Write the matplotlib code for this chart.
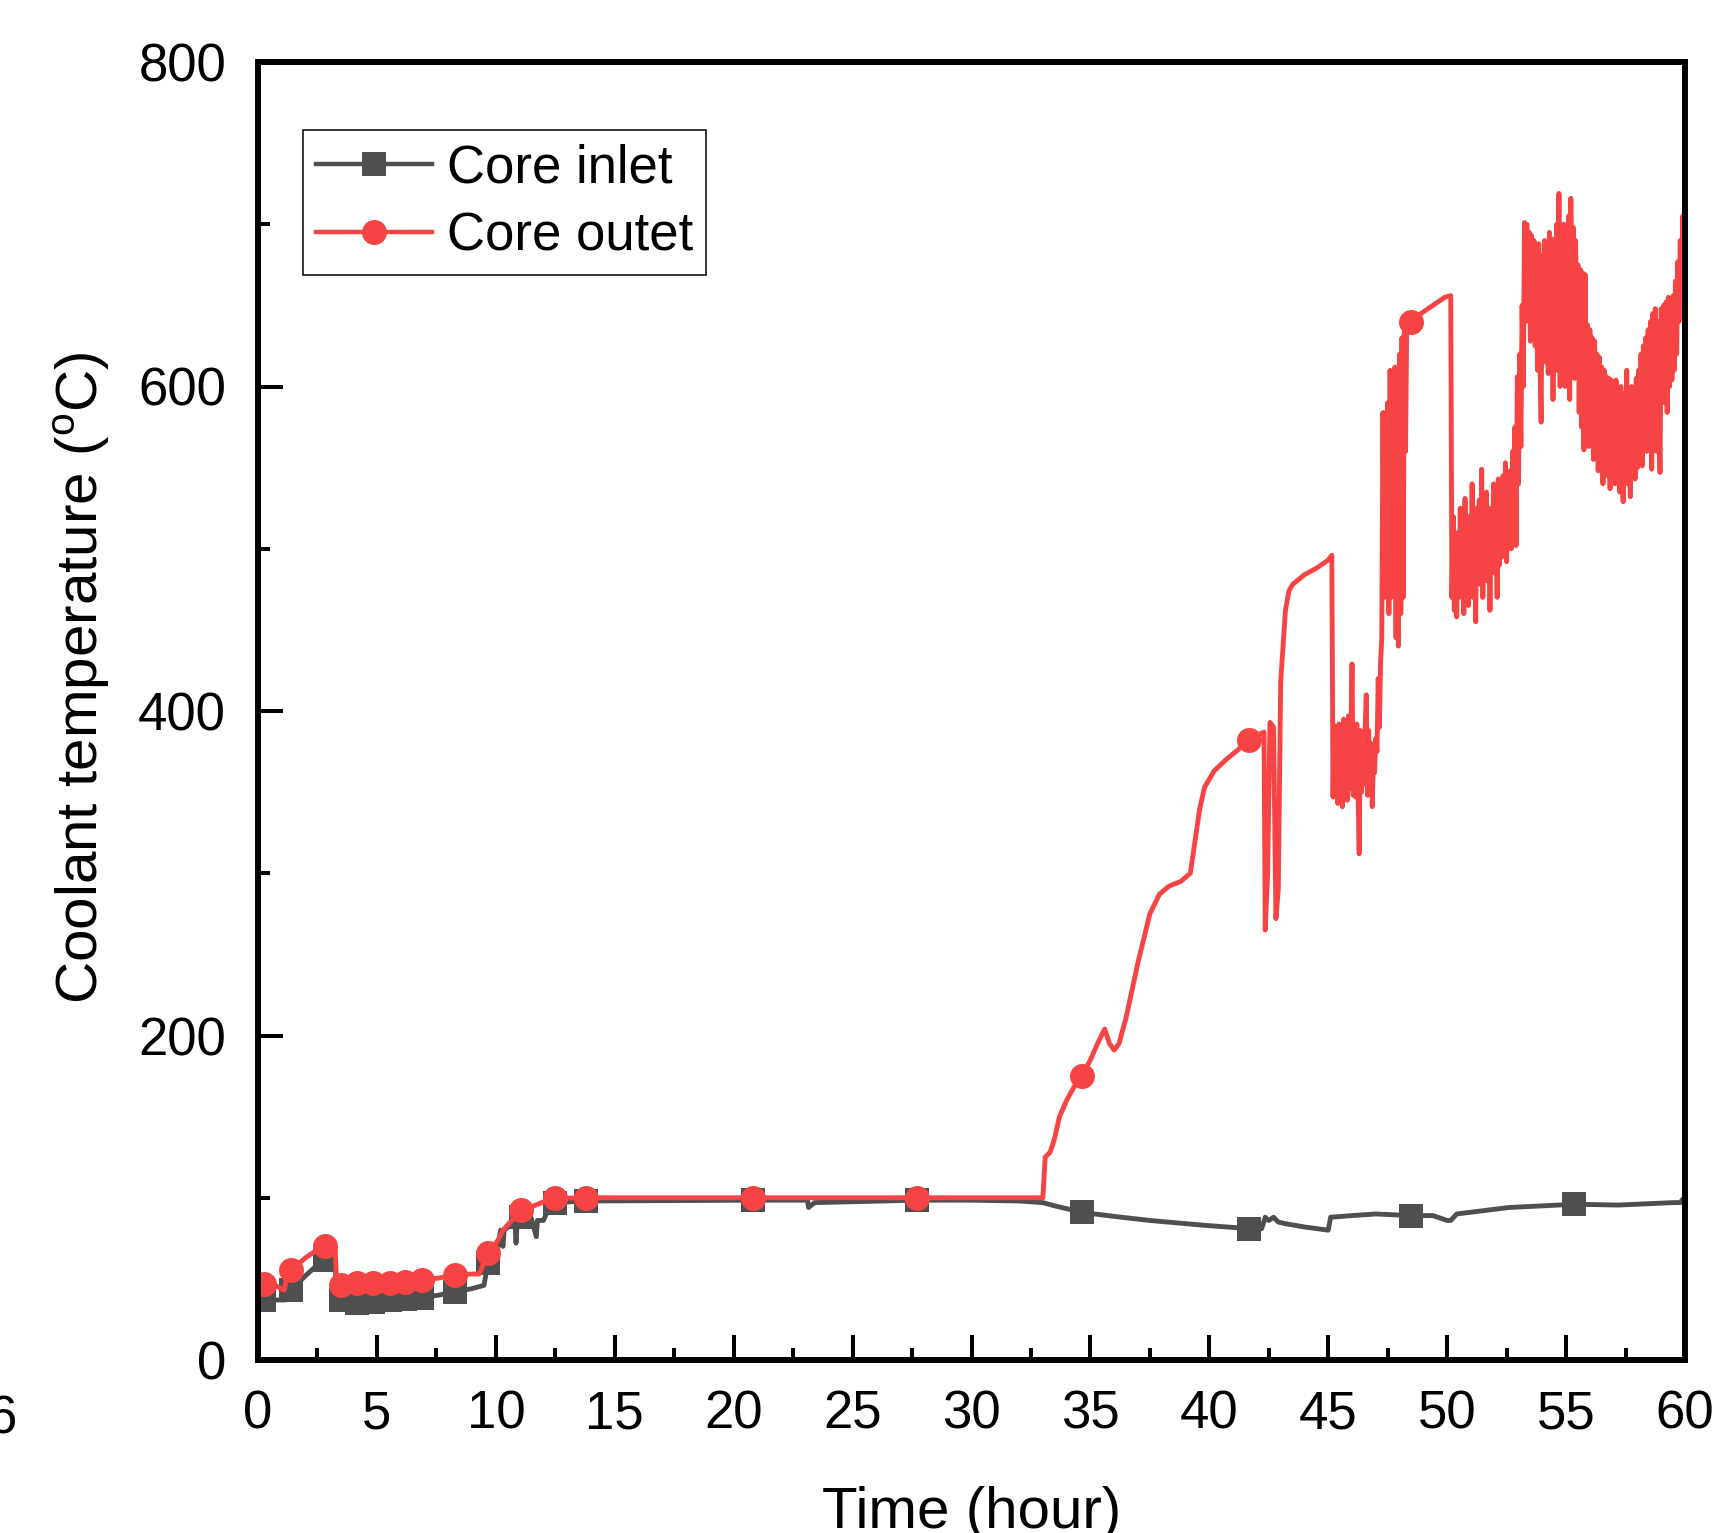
import numpy as np
import matplotlib
matplotlib.use('Agg')
import matplotlib.pyplot as plt
from matplotlib.lines import Line2D
from matplotlib.ticker import MultipleLocator

plt.rcParams['font.family'] = ['Liberation Sans', 'DejaVu Sans']
plt.rcParams['mathtext.fontset'] = 'custom'
plt.rcParams['mathtext.rm'] = 'Liberation Sans'

# ---- core inlet (hour, degC) ----
inlet_t = [0, 0.25, 1.15, 1.2, 1.39, 2.0, 2.6, 2.8, 3.25, 3.3,
           3.5, 4.17, 4.83, 5.54, 6.2, 6.9, 7.6, 8.3, 9.0, 9.5,
           9.67, 10.0, 10.2, 10.3, 10.35, 10.6, 10.8, 10.85, 10.9, 11.06,
           11.5, 11.7, 11.75, 12.0, 12.3, 12.5, 13.8, 20.8, 23.1, 23.15,
           23.4, 27.7, 30.0, 32.0, 33.0, 33.5, 34.65, 36.0, 37.5, 39.8,
           41.65, 42.2, 42.35, 42.5, 42.7, 42.9, 43.2, 44.0, 45.0, 45.1,
           46.0, 47.0, 48.5, 49.4, 50.0, 50.15, 50.4, 51.5, 52.6, 54.0,
           55.35, 57.2, 59.5, 59.8, 59.9, 60.0]
inlet_T = [37, 37, 37, 40, 43, 52, 60, 61.6, 61, 37,
           37, 35, 36, 37, 37.5, 38.5, 40, 42, 44, 46,
           59.6, 62, 80, 70, 80, 83, 86, 72, 86, 88,
           87, 76, 86, 86, 96, 97, 98, 98.5, 98.5, 94,
           97, 98.5, 98.5, 98, 97, 95, 91, 88.5, 86, 83,
           81, 81, 88, 86, 88, 85, 84, 82, 80, 88,
           89, 90, 89, 89, 86, 86, 90, 92, 94, 95,
           96, 95.5, 97, 97, 99, 97]
inlet_marks = [0.25, 1.39, 2.8, 3.5, 4.17, 4.83, 5.54, 6.2, 6.9, 8.3, 9.67,
               11.06, 12.5, 13.8, 20.8, 27.7, 34.65, 41.65, 48.5, 55.35]

# ---- core outlet ----
# heat-up, plateau at 100 and ramp
out_t_a = [0, 0.25, 0.6, 1.1, 1.2, 1.39, 2.0, 2.6, 2.8, 3.1,
           3.25, 3.3, 3.5, 4.17, 4.83, 5.54, 6.2, 6.9, 7.6, 8.3,
           9.0, 9.3, 9.5, 9.67, 10.1, 10.3, 11.06, 11.6, 12.1, 12.5,
           13.8, 20.8, 27.7, 33.0, 33.05, 33.1, 33.3, 33.4, 33.5, 33.7,
           34.0, 34.3, 34.65, 35.0, 35.3, 35.6, 35.8, 36.0, 36.2, 36.5,
           37.0, 37.5, 37.9, 38.3, 38.8, 39.2, 39.4, 39.6, 39.8, 40.2,
           40.7, 41.2, 41.65, 42.0, 42.3, 42.35, 42.45, 42.55, 42.7, 42.8,
           42.9, 43.0, 43.1, 43.2, 43.35, 43.5, 44.0, 44.5, 45.0, 45.15]
out_T_a = [47, 47, 47, 43, 50, 55.5, 63, 69, 70, 68,
           68, 47, 46.2, 47.3, 47.3, 47.7, 48.3, 49.3, 50.5, 52.4,
           53, 53, 60, 65.8, 74, 80, 92.4, 95, 98, 99.6,
           100, 100, 100, 100, 112, 125, 128, 132, 137, 150,
           160, 168, 175, 185, 195, 204, 195, 191, 195, 211,
           245, 275, 287, 292, 295, 300, 320, 340, 353, 363,
           370, 376, 382, 385, 387, 265, 300, 393, 390, 272,
           290, 418, 440, 462, 474, 478, 484, 488, 493, 496]
# first noisy stretch and plateau
out_t_b = [45.2, 45.25, 45.3, 45.35, 45.4, 45.45, 45.5, 45.55, 45.6, 45.65,
           45.7, 45.75, 45.8, 45.85, 45.9, 45.95, 46.0, 46.05, 46.1, 46.15,
           46.2, 46.25, 46.3, 46.35, 46.4, 46.45, 46.5, 46.55, 46.6, 46.65,
           46.7, 46.75, 46.8, 46.85, 46.9, 46.95, 47.0, 47.05, 47.1, 47.15,
           47.2, 47.25, 47.3, 47.35, 47.4, 47.45, 47.5, 47.55, 47.6, 47.65,
           47.7, 47.75, 47.8, 47.85, 47.9, 47.95, 48.0, 48.05, 48.1, 48.15,
           48.2, 48.25, 48.3, 48.4, 48.5, 48.8, 49.1, 49.4, 49.7, 49.9,
           50.15]
out_T_b = [347, 391, 350, 385, 343, 392, 352, 380, 341, 395,
           355, 388, 345, 397, 352, 385, 429, 348, 390, 347,
           392, 352, 312, 388, 350, 385, 355, 390, 410, 348,
           388, 355, 380, 341, 371, 362, 383, 375, 420, 390,
           430, 445, 584, 470, 575, 520, 590, 460, 610, 470,
           605, 500, 612, 445, 600, 440, 620, 460, 630, 470,
           634, 560, 636, 638, 640, 644, 647, 650, 653, 655,
           656]
# second noisy stretch
out_t_c = [50.2, 50.25, 50.3, 50.35, 50.4, 50.45, 50.5, 50.55, 50.6, 50.65,
           50.7, 50.75, 50.8, 50.85, 50.9, 50.95, 51.0, 51.05, 51.1, 51.15,
           51.2, 51.25, 51.3, 51.35, 51.4, 51.45, 51.5, 51.55, 51.6, 51.65,
           51.7, 51.75, 51.8, 51.85, 51.9, 51.95, 52.0, 52.05, 52.1, 52.15,
           52.2, 52.25, 52.3, 52.35, 52.4, 52.45, 52.5, 52.55, 52.6, 52.65,
           52.7, 52.75, 52.8, 52.85, 52.9, 52.95, 53.0, 53.05]
out_T_c = [470, 520, 462, 500, 458, 510, 470, 525, 475, 500,
           460, 531, 478, 515, 465, 520, 480, 540, 470, 505,
           455, 525, 485, 530, 478, 549, 470, 520, 490, 535,
           480, 525, 462, 520, 495, 540, 485, 530, 470, 543,
           490, 520, 495, 545, 500, 553, 492, 540, 505, 548,
           500, 560, 510, 575, 502, 606, 540, 620]
# high temperature stretch to the end
out_t_d = [53.1, 53.15, 53.2, 53.25, 53.3, 53.35, 53.4, 53.45, 53.5, 53.55,
           53.6, 53.65, 53.7, 53.75, 53.8, 53.85, 53.9, 53.95, 54.0, 54.05,
           54.1, 54.15, 54.2, 54.25, 54.3, 54.35, 54.4, 54.45, 54.5, 54.55,
           54.6, 54.65, 54.7, 54.75, 54.8, 54.85, 54.9, 54.95, 55.0, 55.05,
           55.1, 55.15, 55.2, 55.25, 55.3, 55.35, 55.4, 55.45, 55.5, 55.55,
           55.6, 55.65, 55.7, 55.75, 55.8, 55.85, 55.9, 55.95, 56.0, 56.05,
           56.1, 56.15, 56.2, 56.25, 56.3, 56.35, 56.4, 56.45, 56.5, 56.55,
           56.6, 56.65, 56.7, 56.75, 56.8, 56.85, 56.9, 56.95, 57.0, 57.05,
           57.1, 57.15, 57.2, 57.25, 57.3, 57.35, 57.4, 57.45, 57.5, 57.55,
           57.6, 57.65, 57.7, 57.75, 57.8, 57.85, 57.9, 57.95, 58.0, 58.05,
           58.1, 58.15, 58.2, 58.25, 58.3, 58.35, 58.4, 58.45, 58.5, 58.55,
           58.6, 58.65, 58.7, 58.75, 58.8, 58.85, 58.9, 58.95, 59.0, 59.05,
           59.1, 59.15, 59.2, 59.25, 59.3, 59.35, 59.4, 59.45, 59.5, 59.55,
           59.6, 59.65, 59.7, 59.75, 59.8, 59.85, 59.9, 59.95, 60.0]
out_T_d = [563, 650, 600, 701, 640, 700, 659, 695, 628, 693,
           640, 690, 625, 685, 610, 688, 620, 578, 681, 630,
           690, 615, 685, 608, 695, 630, 691, 592, 680, 620,
           700, 610, 719, 600, 692, 632, 700, 600, 695, 625,
           705, 592, 716, 620, 698, 605, 690, 630, 675, 584,
           672, 575, 670, 561, 669, 580, 638, 563, 635, 575,
           630, 555, 628, 570, 620, 548, 618, 565, 612, 540,
           610, 560, 606, 545, 605, 537, 604, 555, 600, 540,
           604, 560, 598, 535, 600, 550, 529, 596, 545, 610,
           540, 598, 532, 600, 555, 596, 543, 605, 550, 610,
           565, 620, 551, 625, 570, 630, 560, 635, 575, 640,
           549, 645, 580, 648, 560, 640, 590, 547, 648, 600,
           650, 590, 652, 584, 655, 600, 650, 604, 656, 610,
           665, 620, 677, 640, 690, 650, 705, 656, 741]
outlet_marks = [0.25, 1.39, 2.8, 3.5, 4.17, 4.83, 5.54, 6.2, 6.9, 8.3, 9.67,
                11.06, 12.5, 13.8, 20.8, 27.7, 34.65, 41.65, 48.5]

gray = '#4F4F4F'
red = '#F64444'

inlet_t = np.array(inlet_t)
inlet_T = np.array(inlet_T)
out_t = np.concatenate([out_t_a, out_t_b, out_t_c, out_t_d])
out_T = np.concatenate([out_T_a, out_T_b, out_T_c, out_T_d])


def mark_idx(t, marks):
    return [int(np.argmin(np.abs(t - m))) for m in marks]


fig = plt.figure(figsize=(17.16, 15.33), dpi=100)
ax = fig.add_axes([258 / 1716, 1 - 1360 / 1533, 1427 / 1716, 1298 / 1533])

ax.plot(inlet_t, inlet_T, color=gray, lw=3.5)
i_in = mark_idx(inlet_t, inlet_marks)
ax.plot(inlet_t[i_in], inlet_T[i_in], ls='none', marker='s', ms=17, color=gray, mew=0)

ax.plot(out_t, out_T, color=red, lw=3.5)
i_out = mark_idx(out_t, outlet_marks)
ax.plot(out_t[i_out], out_T[i_out], ls='none', marker='o', ms=18, color=red, mew=0)

ax.set_xlim(0, 60)
ax.set_ylim(0, 800)
ax.set_xticks(np.arange(0, 61, 5))
ax.set_yticks(np.arange(0, 801, 200))
ax.xaxis.set_minor_locator(MultipleLocator(2.5))
ax.yaxis.set_minor_locator(MultipleLocator(100))
ax.tick_params(which='both', direction='in', top=False, right=False, width=2.9)
ax.tick_params(axis='x', which='major', length=18, labelsize=38, pad=21)
ax.tick_params(axis='y', which='major', length=18, labelsize=38, pad=23)
ax.tick_params(which='minor', length=8.6)
for sp in ax.spines.values():
    sp.set_linewidth(4.3)

ax.set_xlabel('Time (hour)', fontsize=42)
ax.xaxis.set_label_coords(0.5, -0.097)
ax.set_ylabel(r'Coolant temperature ($^{\rm o}$C)', fontsize=42)
ax.yaxis.set_label_coords(-0.1023, 0.526)

handles = [Line2D([], [], color=gray, lw=3.2, marker='s', ms=17, mew=0),
           Line2D([], [], color=red, lw=3.2, marker='o', ms=18, mew=0)]
leg = ax.legend(handles, ['Core inlet', 'Core outet'], loc='upper left',
                bbox_to_anchor=(0.0315, 0.9476), borderaxespad=0, fontsize=38,
                frameon=True, fancybox=False, framealpha=1, edgecolor='black',
                handlelength=2.2, handletextpad=0.28, borderpad=0.25,
                labelspacing=0.35)
leg.get_frame().set_linewidth(1.1)

# clipped tick label of the neighbouring panel
fig.text(17 / 1716, 1 - 1434 / 1533, '6', fontsize=38, ha='right', va='baseline')

fig.savefig('out.png', dpi=100)
